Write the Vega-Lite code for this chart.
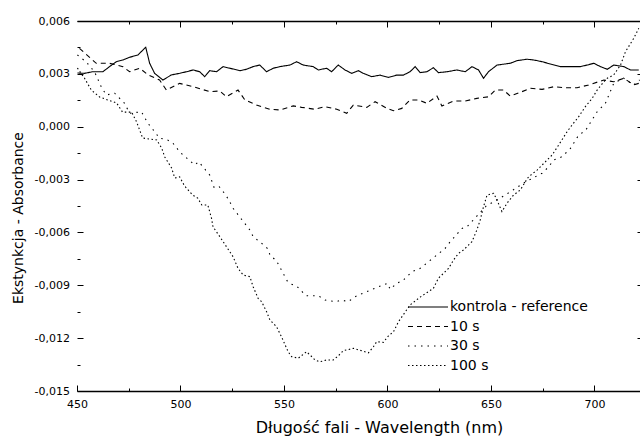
{
 "$schema": "https://vega.github.io/schema/vega-lite/v6.json",
 "width": 563,
 "height": 370,
 "autosize": {"type": "none"},
 "padding": {"left": 77, "top": 21, "right": 0, "bottom": 46},
 "background": "white",
 "config": {"view": {"stroke": null}, "font": "DejaVu Sans"},
 "data": {"values": [
{"s":"kontrola - reference","w":450.2,"a":0.00305},{"s":"kontrola - reference","w":453.6,"a":0.00303},{"s":"kontrola - reference","w":457.6,"a":0.00312},{"s":"kontrola - reference","w":462.5,"a":0.00312},{"s":"kontrola - reference","w":465.7,"a":0.00341},{"s":"kontrola - reference","w":469.0,"a":0.00369},{"s":"kontrola - reference","w":472.2,"a":0.00379},{"s":"kontrola - reference","w":475.4,"a":0.00394},{"s":"kontrola - reference","w":479.4,"a":0.00407},{"s":"kontrola - reference","w":483.2,"a":0.00451},{"s":"kontrola - reference","w":485.1,"a":0.00360},{"s":"kontrola - reference","w":487.5,"a":0.00303},{"s":"kontrola - reference","w":491.5,"a":0.00265},{"s":"kontrola - reference","w":495.6,"a":0.00294},{"s":"kontrola - reference","w":499.6,"a":0.00303},{"s":"kontrola - reference","w":502.9,"a":0.00312},{"s":"kontrola - reference","w":506.1,"a":0.00322},{"s":"kontrola - reference","w":509.3,"a":0.00312},{"s":"kontrola - reference","w":511.7,"a":0.00284},{"s":"kontrola - reference","w":514.1,"a":0.00318},{"s":"kontrola - reference","w":517.4,"a":0.00312},{"s":"kontrola - reference","w":520.6,"a":0.00341},{"s":"kontrola - reference","w":523.8,"a":0.00332},{"s":"kontrola - reference","w":528.7,"a":0.00318},{"s":"kontrola - reference","w":531.9,"a":0.00326},{"s":"kontrola - reference","w":535.1,"a":0.00341},{"s":"kontrola - reference","w":538.3,"a":0.00350},{"s":"kontrola - reference","w":541.6,"a":0.00312},{"s":"kontrola - reference","w":544.8,"a":0.00332},{"s":"kontrola - reference","w":548.0,"a":0.00341},{"s":"kontrola - reference","w":552.9,"a":0.00350},{"s":"kontrola - reference","w":556.1,"a":0.00369},{"s":"kontrola - reference","w":559.3,"a":0.00350},{"s":"kontrola - reference","w":564.1,"a":0.00341},{"s":"kontrola - reference","w":566.6,"a":0.00322},{"s":"kontrola - reference","w":570.6,"a":0.00332},{"s":"kontrola - reference","w":573.0,"a":0.00312},{"s":"kontrola - reference","w":576.2,"a":0.00350},{"s":"kontrola - reference","w":579.5,"a":0.00322},{"s":"kontrola - reference","w":582.7,"a":0.00303},{"s":"kontrola - reference","w":585.9,"a":0.00318},{"s":"kontrola - reference","w":588.3,"a":0.00303},{"s":"kontrola - reference","w":592.4,"a":0.00284},{"s":"kontrola - reference","w":596.4,"a":0.00293},{"s":"kontrola - reference","w":600.4,"a":0.00280},{"s":"kontrola - reference","w":604.5,"a":0.00293},{"s":"kontrola - reference","w":607.7,"a":0.00293},{"s":"kontrola - reference","w":610.9,"a":0.00312},{"s":"kontrola - reference","w":613.4,"a":0.00341},{"s":"kontrola - reference","w":615.8,"a":0.00307},{"s":"kontrola - reference","w":619.0,"a":0.00312},{"s":"kontrola - reference","w":622.2,"a":0.00335},{"s":"kontrola - reference","w":624.6,"a":0.00307},{"s":"kontrola - reference","w":628.7,"a":0.00312},{"s":"kontrola - reference","w":633.5,"a":0.00322},{"s":"kontrola - reference","w":637.6,"a":0.00312},{"s":"kontrola - reference","w":640.8,"a":0.00341},{"s":"kontrola - reference","w":644.0,"a":0.00322},{"s":"kontrola - reference","w":646.4,"a":0.00275},{"s":"kontrola - reference","w":648.8,"a":0.00312},{"s":"kontrola - reference","w":652.9,"a":0.00350},{"s":"kontrola - reference","w":659.3,"a":0.00360},{"s":"kontrola - reference","w":662.6,"a":0.00375},{"s":"kontrola - reference","w":667.4,"a":0.00383},{"s":"kontrola - reference","w":670.6,"a":0.00379},{"s":"kontrola - reference","w":674.7,"a":0.00369},{"s":"kontrola - reference","w":678.7,"a":0.00356},{"s":"kontrola - reference","w":683.5,"a":0.00341},{"s":"kontrola - reference","w":688.4,"a":0.00341},{"s":"kontrola - reference","w":693.2,"a":0.00341},{"s":"kontrola - reference","w":696.5,"a":0.00350},{"s":"kontrola - reference","w":699.7,"a":0.00360},{"s":"kontrola - reference","w":702.9,"a":0.00341},{"s":"kontrola - reference","w":706.2,"a":0.00326},{"s":"kontrola - reference","w":709.3,"a":0.00350},{"s":"kontrola - reference","w":714.2,"a":0.00341},{"s":"kontrola - reference","w":717.4,"a":0.00322},{"s":"kontrola - reference","w":721.4,"a":0.00322},
{"s":"10 s","w":451.2,"a":0.00445},{"s":"10 s","w":459.3,"a":0.00360},{"s":"10 s","w":465.7,"a":0.00360},{"s":"10 s","w":472.2,"a":0.00341},{"s":"10 s","w":475.4,"a":0.00312},{"s":"10 s","w":480.3,"a":0.00332},{"s":"10 s","w":484.3,"a":0.00294},{"s":"10 s","w":489.9,"a":0.00265},{"s":"10 s","w":493.2,"a":0.00208},{"s":"10 s","w":499.6,"a":0.00246},{"s":"10 s","w":506.1,"a":0.00227},{"s":"10 s","w":514.1,"a":0.00199},{"s":"10 s","w":519.0,"a":0.00203},{"s":"10 s","w":522.2,"a":0.00170},{"s":"10 s","w":527.8,"a":0.00208},{"s":"10 s","w":531.1,"a":0.00152},{"s":"10 s","w":536.7,"a":0.00123},{"s":"10 s","w":543.2,"a":0.00099},{"s":"10 s","w":548.0,"a":0.00095},{"s":"10 s","w":554.5,"a":0.00118},{"s":"10 s","w":558.5,"a":0.00110},{"s":"10 s","w":565.0,"a":0.00099},{"s":"10 s","w":569.8,"a":0.00114},{"s":"10 s","w":575.5,"a":0.00099},{"s":"10 s","w":580.3,"a":0.00076},{"s":"10 s","w":583.5,"a":0.00123},{"s":"10 s","w":590.0,"a":0.00110},{"s":"10 s","w":594.0,"a":0.00142},{"s":"10 s","w":599.7,"a":0.00104},{"s":"10 s","w":602.9,"a":0.00091},{"s":"10 s","w":606.9,"a":0.00104},{"s":"10 s","w":610.9,"a":0.00152},{"s":"10 s","w":615.0,"a":0.00152},{"s":"10 s","w":619.0,"a":0.00133},{"s":"10 s","w":623.9,"a":0.00174},{"s":"10 s","w":626.3,"a":0.00118},{"s":"10 s","w":631.9,"a":0.00146},{"s":"10 s","w":637.6,"a":0.00146},{"s":"10 s","w":643.2,"a":0.00161},{"s":"10 s","w":648.8,"a":0.00170},{"s":"10 s","w":652.1,"a":0.00208},{"s":"10 s","w":656.1,"a":0.00208},{"s":"10 s","w":659.3,"a":0.00174},{"s":"10 s","w":665.0,"a":0.00199},{"s":"10 s","w":669.0,"a":0.00218},{"s":"10 s","w":674.7,"a":0.00212},{"s":"10 s","w":680.3,"a":0.00227},{"s":"10 s","w":686.0,"a":0.00221},{"s":"10 s","w":691.6,"a":0.00221},{"s":"10 s","w":697.2,"a":0.00237},{"s":"10 s","w":704.5,"a":0.00265},{"s":"10 s","w":709.3,"a":0.00255},{"s":"10 s","w":714.2,"a":0.00275},{"s":"10 s","w":719.0,"a":0.00237},{"s":"10 s","w":721.4,"a":0.00246},
{"s":"30 s","w":450.2,"a":0.00407},{"s":"30 s","w":454.5,"a":0.00367},{"s":"30 s","w":458.5,"a":0.00311},{"s":"30 s","w":461.7,"a":0.00227},{"s":"30 s","w":464.1,"a":0.00180},{"s":"30 s","w":468.2,"a":0.00190},{"s":"30 s","w":470.6,"a":0.00161},{"s":"30 s","w":473.0,"a":0.00133},{"s":"30 s","w":475.4,"a":0.00076},{"s":"30 s","w":481.1,"a":0.00085},{"s":"30 s","w":484.3,"a":0.00019},{"s":"30 s","w":487.5,"a":-0.00028},{"s":"30 s","w":489.9,"a":-0.00066},{"s":"30 s","w":493.2,"a":-0.00071},{"s":"30 s","w":496.4,"a":-0.00094},{"s":"30 s","w":498.3,"a":-0.00123},{"s":"30 s","w":500.4,"a":-0.00151},{"s":"30 s","w":504.5,"a":-0.00193},{"s":"30 s","w":506.9,"a":-0.00217},{"s":"30 s","w":508.8,"a":-0.00199},{"s":"30 s","w":514.1,"a":-0.00274},{"s":"30 s","w":516.2,"a":-0.00344},{"s":"30 s","w":518.5,"a":-0.00337},{"s":"30 s","w":521.9,"a":-0.00388},{"s":"30 s","w":523.8,"a":-0.00426},{"s":"30 s","w":525.4,"a":-0.00463},{"s":"30 s","w":533.5,"a":-0.00586},{"s":"30 s","w":535.1,"a":-0.00624},{"s":"30 s","w":540.8,"a":-0.00677},{"s":"30 s","w":542.4,"a":-0.00696},{"s":"30 s","w":543.2,"a":-0.00728},{"s":"30 s","w":546.4,"a":-0.00762},{"s":"30 s","w":551.6,"a":-0.00876},{"s":"30 s","w":553.7,"a":-0.00894},{"s":"30 s","w":556.1,"a":-0.00904},{"s":"30 s","w":560.6,"a":-0.00959},{"s":"30 s","w":566.6,"a":-0.00959},{"s":"30 s","w":569.8,"a":-0.00984},{"s":"30 s","w":575.1,"a":-0.00993},{"s":"30 s","w":577.9,"a":-0.00984},{"s":"30 s","w":581.1,"a":-0.00993},{"s":"30 s","w":583.8,"a":-0.00968},{"s":"30 s","w":587.2,"a":-0.00950},{"s":"30 s","w":594.5,"a":-0.00914},{"s":"30 s","w":600.0,"a":-0.00889},{"s":"30 s","w":601.3,"a":-0.00923},{"s":"30 s","w":604.5,"a":-0.00889},{"s":"30 s","w":607.7,"a":-0.00870},{"s":"30 s","w":611.8,"a":-0.00823},{"s":"30 s","w":615.8,"a":-0.00804},{"s":"30 s","w":627.9,"a":-0.00690},{"s":"30 s","w":630.3,"a":-0.00653},{"s":"30 s","w":636.0,"a":-0.00577},{"s":"30 s","w":638.4,"a":-0.00568},{"s":"30 s","w":647.7,"a":-0.00450},{"s":"30 s","w":656.9,"a":-0.00388},{"s":"30 s","w":666.6,"a":-0.00314},{"s":"30 s","w":674.7,"a":-0.00264},{"s":"30 s","w":677.9,"a":-0.00227},{"s":"30 s","w":680.3,"a":-0.00189},{"s":"30 s","w":684.4,"a":-0.00170},{"s":"30 s","w":688.4,"a":-0.00123},{"s":"30 s","w":692.4,"a":-0.00047},{"s":"30 s","w":695.6,"a":-0.00023},{"s":"30 s","w":701.3,"a":0.00085},{"s":"30 s","w":705.3,"a":0.00133},{"s":"30 s","w":709.3,"a":0.00246},{"s":"30 s","w":714.0,"a":0.00276},{"s":"30 s","w":718.9,"a":0.00237},{"s":"30 s","w":721.8,"a":0.00265},
{"s":"100 s","w":450.2,"a":0.00333},{"s":"100 s","w":453.6,"a":0.00276},{"s":"100 s","w":456.9,"a":0.00208},{"s":"100 s","w":460.9,"a":0.00169},{"s":"100 s","w":464.8,"a":0.00152},{"s":"100 s","w":469.1,"a":0.00135},{"s":"100 s","w":472.0,"a":0.00083},{"s":"100 s","w":476.4,"a":0.00083},{"s":"100 s","w":478.8,"a":0.00027},{"s":"100 s","w":481.7,"a":-0.00064},{"s":"100 s","w":485.1,"a":-0.00070},{"s":"100 s","w":488.5,"a":-0.00075},{"s":"100 s","w":490.9,"a":-0.00121},{"s":"100 s","w":492.4,"a":-0.00172},{"s":"100 s","w":495.7,"a":-0.00234},{"s":"100 s","w":497.2,"a":-0.00291},{"s":"100 s","w":499.6,"a":-0.00285},{"s":"100 s","w":502.0,"a":-0.00337},{"s":"100 s","w":505.9,"a":-0.00388},{"s":"100 s","w":508.3,"a":-0.00405},{"s":"100 s","w":510.3,"a":-0.00444},{"s":"100 s","w":513.2,"a":-0.00444},{"s":"100 s","w":515.0,"a":-0.00520},{"s":"100 s","w":515.7,"a":-0.00568},{"s":"100 s","w":519.0,"a":-0.00624},{"s":"100 s","w":522.2,"a":-0.00681},{"s":"100 s","w":525.4,"a":-0.00738},{"s":"100 s","w":527.8,"a":-0.00804},{"s":"100 s","w":530.3,"a":-0.00842},{"s":"100 s","w":533.5,"a":-0.00851},{"s":"100 s","w":535.1,"a":-0.00908},{"s":"100 s","w":537.5,"a":-0.00974},{"s":"100 s","w":539.2,"a":-0.00993},{"s":"100 s","w":541.6,"a":-0.01050},{"s":"100 s","w":543.2,"a":-0.01097},{"s":"100 s","w":546.4,"a":-0.01135},{"s":"100 s","w":548.8,"a":-0.01192},{"s":"100 s","w":552.0,"a":-0.01277},{"s":"100 s","w":553.7,"a":-0.01305},{"s":"100 s","w":556.9,"a":-0.01314},{"s":"100 s","w":560.9,"a":-0.01277},{"s":"100 s","w":563.4,"a":-0.01305},{"s":"100 s","w":565.0,"a":-0.01324},{"s":"100 s","w":567.4,"a":-0.01334},{"s":"100 s","w":570.6,"a":-0.01324},{"s":"100 s","w":573.8,"a":-0.01324},{"s":"100 s","w":576.2,"a":-0.01301},{"s":"100 s","w":578.7,"a":-0.01271},{"s":"100 s","w":583.5,"a":-0.01258},{"s":"100 s","w":590.8,"a":-0.01283},{"s":"100 s","w":593.2,"a":-0.01249},{"s":"100 s","w":594.8,"a":-0.01220},{"s":"100 s","w":598.0,"a":-0.01224},{"s":"100 s","w":600.4,"a":-0.01188},{"s":"100 s","w":602.9,"a":-0.01164},{"s":"100 s","w":605.3,"a":-0.01107},{"s":"100 s","w":610.9,"a":-0.01012},{"s":"100 s","w":615.8,"a":-0.00967},{"s":"100 s","w":622.2,"a":-0.00917},{"s":"100 s","w":624.6,"a":-0.00860},{"s":"100 s","w":627.1,"a":-0.00832},{"s":"100 s","w":629.5,"a":-0.00804},{"s":"100 s","w":631.9,"a":-0.00757},{"s":"100 s","w":634.3,"a":-0.00719},{"s":"100 s","w":636.7,"a":-0.00700},{"s":"100 s","w":640.8,"a":-0.00653},{"s":"100 s","w":643.2,"a":-0.00586},{"s":"100 s","w":644.8,"a":-0.00530},{"s":"100 s","w":646.4,"a":-0.00454},{"s":"100 s","w":648.1,"a":-0.00388},{"s":"100 s","w":651.3,"a":-0.00378},{"s":"100 s","w":652.9,"a":-0.00416},{"s":"100 s","w":655.3,"a":-0.00482},{"s":"100 s","w":657.7,"a":-0.00435},{"s":"100 s","w":660.9,"a":-0.00388},{"s":"100 s","w":664.2,"a":-0.00359},{"s":"100 s","w":666.6,"a":-0.00312},{"s":"100 s","w":668.2,"a":-0.00284},{"s":"100 s","w":672.3,"a":-0.00246},{"s":"100 s","w":679.5,"a":-0.00161},{"s":"100 s","w":682.7,"a":-0.00104},{"s":"100 s","w":686.8,"a":-0.00028},{"s":"100 s","w":689.2,"a":0.00010},{"s":"100 s","w":692.4,"a":0.00057},{"s":"100 s","w":695.6,"a":0.00114},{"s":"100 s","w":698.9,"a":0.00161},{"s":"100 s","w":701.3,"a":0.00208},{"s":"100 s","w":704.5,"a":0.00255},{"s":"100 s","w":706.2,"a":0.00275},{"s":"100 s","w":709.3,"a":0.00294},{"s":"100 s","w":712.6,"a":0.00350},{"s":"100 s","w":715.0,"a":0.00426},{"s":"100 s","w":719.0,"a":0.00502},{"s":"100 s","w":721.4,"a":0.00559}
 ]},
 "layer": [
  {
   "mark": {"type": "line", "color": "black", "strokeWidth": 1.1, "clip": true},
   "encoding": {
    "x": {"field": "w", "type": "quantitative", "scale": {"domain": [450, 722], "nice": false, "zero": false},
     "axis": {"orient": "bottom", "values": [450,475,500,525,550,575,600,625,650,675,700],
      "labelExpr": "datum.value % 50 == 0 ? datum.label : ''",
      "tickSize": {"condition": {"test": "datum.value % 50 == 0", "value": -6}, "value": -3},
      "domain": true, "domainColor": "black", "domainWidth": 1.3, "tickColor": "black", "tickWidth": 1,
      "labelColor": "black", "labelFont": "DejaVu Sans", "labelFontSize": 11, "labelPadding": 13,
      "labelOverlap": false, "labelFlush": false, "grid": false,
      "title": "Długość fali - Wavelength (nm)", "titleFont": "DejaVu Sans", "titleFontSize": 16,
      "titleFontWeight": "normal", "titleColor": "black", "titleX": 302, "titleY": 41, "titleBaseline": "alphabetic", "titleAlign": "center"}},
    "y": {"field": "a", "type": "quantitative", "scale": {"domain": [-0.015, 0.006], "nice": false, "zero": false},
     "axis": {"orient": "left", "values": [-0.015,-0.0135,-0.012,-0.0105,-0.009,-0.0075,-0.006,-0.0045,-0.003,-0.0015,0,0.0015,0.003,0.0045,0.006],
      "labelExpr": "abs(datum.value*1000/3 - round(datum.value*1000/3)) < 0.01 ? replace(replace(format(datum.value, '.3f'), '.', ','), '−', '-') : ''",
      "tickSize": {"condition": {"test": "abs(datum.value*1000/3 - round(datum.value*1000/3)) < 0.01", "value": -6}, "value": -3},
      "domain": false, "tickColor": "black", "tickWidth": 1,
      "labelColor": "black", "labelFont": "DejaVu Sans", "labelFontSize": 11, "labelPadding": 13.5,
      "labelOverlap": false, "labelFlush": false, "grid": false,
      "title": "Ekstynkcja - Absorbance", "titleFont": "DejaVu Sans", "titleFontSize": 14,
      "titleFontWeight": "normal", "titleColor": "black", "titleX": -55, "titleY": 196.5, "titleBaseline": "alphabetic", "titleAlign": "center", "titleAngle": -90}},
    "strokeDash": {"field": "s", "type": "nominal",
     "scale": {"domain": ["kontrola - reference", "10 s", "30 s", "100 s"], "range": [[1, 0], [5, 4], [1.5, 5], [1.5, 2.5]]},
     "legend": {"orient": "none", "legendX": 340, "legendY": 275, "title": null, "symbolType": "M-2,0H2", "symbolSize": 400,
      "symbolStrokeWidth": 1.1, "symbolStrokeColor": "black", "symbolFillColor": "transparent", "labelFont": "DejaVu Sans", "labelFontSize": 14, "labelColor": "black",
      "labelOffset": 11, "padding": 0, "rowPadding": 1.5}}
   }
  },
  {
   "mark": {"type": "point", "opacity": 0},
   "encoding": {
    "x": {"field": "w", "type": "quantitative", "scale": {"domain": [450, 722], "nice": false, "zero": false},
     "axis": {"orient": "top", "values": [475,500,525,550,575,600,625,650,675,700], "labels": false,
      "tickSize": {"condition": {"test": "datum.value % 50 == 0", "value": -6}, "value": -3},
      "domain": true, "domainColor": "black", "domainWidth": 1.3, "tickColor": "black", "grid": false, "title": null}},
    "y": {"field": "a", "type": "quantitative", "scale": {"domain": [-0.015, 0.006], "nice": false, "zero": false},
     "axis": {"orient": "right", "values": [-0.012,-0.009,-0.006,-0.003,0,0.003], "labels": false,
      "tickSize": -3, "domain": false, "tickColor": "black", "grid": false, "title": null}}
   }
  }
 ],
 "resolve": {"axis": {"x": "independent", "y": "independent"}}
}
